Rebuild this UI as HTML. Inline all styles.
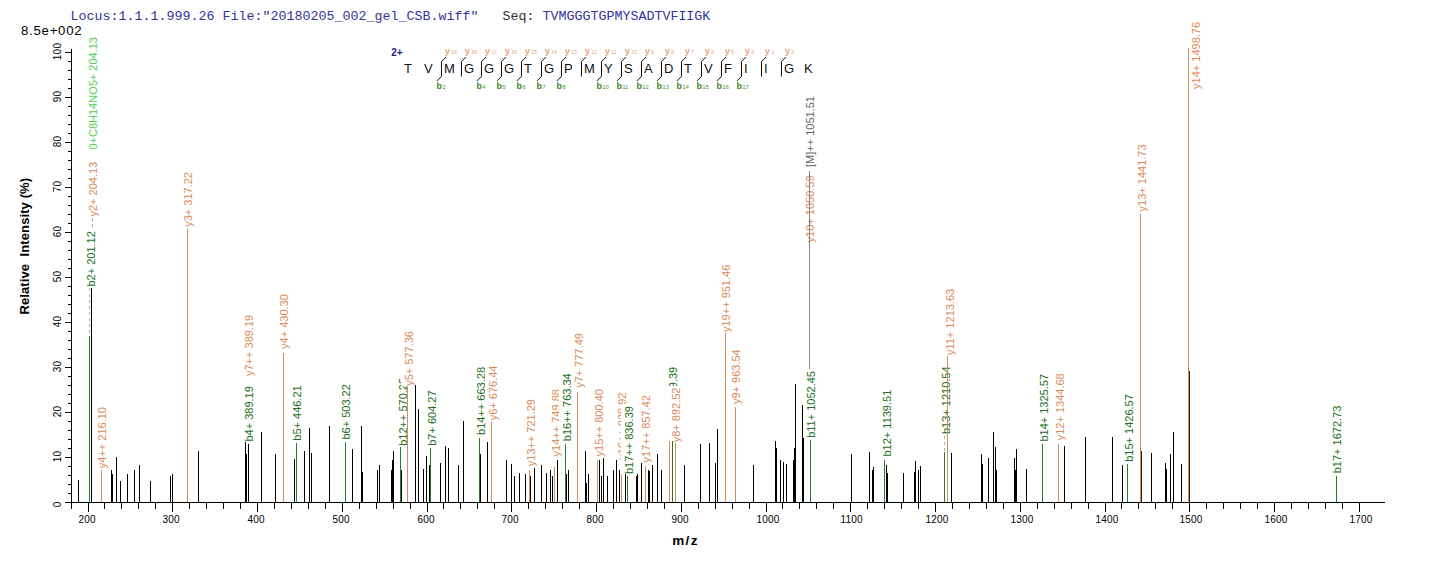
<!DOCTYPE html><html><head><meta charset="utf-8"><style>html,body{margin:0;padding:0;background:#fff;overflow:hidden;}svg{display:block;}</style></head><body>
<svg width="1436" height="562" viewBox="0 0 1436 562" shape-rendering="crispEdges">
<rect x="0" y="0" width="1436" height="562" fill="#fff"/>
<text x="70.5" y="20" font-family="&quot;Liberation Mono&quot;, monospace" font-size="13.33" fill="#33339a" style="white-space:pre">Locus:1.1.1.999.26 File:"20180205_002_gel_CSB.wiff"   <tspan fill="#333">Seq: </tspan>TVMGGGTGPMYSADTVFIIGK</text>
<text x="21" y="35" font-family="&quot;Liberation Sans&quot;, sans-serif" font-size="13.2" fill="#000" letter-spacing="0.75">8.5e+002</text>
<text transform="translate(28.5,314.5) rotate(-90)" font-family="&quot;Liberation Sans&quot;, sans-serif" font-size="13" font-weight="bold" letter-spacing="0.1" fill="#000" style="white-space:pre">Relative  Intensity (%)</text>
<rect x="71" y="49" width="1" height="454" fill="#000"/>
<rect x="65" y="502" width="1320" height="1" fill="#000"/>
<rect x="65" y="502" width="6" height="1" fill="#000"/>
<text transform="translate(61,504.4) rotate(-90)" text-anchor="middle" font-family="&quot;Liberation Sans&quot;, sans-serif" font-size="10" letter-spacing="0.2" fill="#000">0</text>
<rect x="68" y="493" width="3" height="1" fill="#000"/>
<rect x="68" y="484" width="3" height="1" fill="#000"/>
<rect x="68" y="475" width="3" height="1" fill="#000"/>
<rect x="68" y="466" width="3" height="1" fill="#000"/>
<rect x="65" y="457" width="6" height="1" fill="#000"/>
<text transform="translate(61,456.4) rotate(-90)" text-anchor="middle" font-family="&quot;Liberation Sans&quot;, sans-serif" font-size="10" letter-spacing="0.2" fill="#000">10</text>
<rect x="68" y="448" width="3" height="1" fill="#000"/>
<rect x="68" y="439" width="3" height="1" fill="#000"/>
<rect x="68" y="430" width="3" height="1" fill="#000"/>
<rect x="68" y="421" width="3" height="1" fill="#000"/>
<rect x="65" y="412" width="6" height="1" fill="#000"/>
<text transform="translate(61,411.4) rotate(-90)" text-anchor="middle" font-family="&quot;Liberation Sans&quot;, sans-serif" font-size="10" letter-spacing="0.2" fill="#000">20</text>
<rect x="68" y="403" width="3" height="1" fill="#000"/>
<rect x="68" y="394" width="3" height="1" fill="#000"/>
<rect x="68" y="385" width="3" height="1" fill="#000"/>
<rect x="68" y="376" width="3" height="1" fill="#000"/>
<rect x="65" y="367" width="6" height="1" fill="#000"/>
<text transform="translate(61,366.4) rotate(-90)" text-anchor="middle" font-family="&quot;Liberation Sans&quot;, sans-serif" font-size="10" letter-spacing="0.2" fill="#000">30</text>
<rect x="68" y="358" width="3" height="1" fill="#000"/>
<rect x="68" y="349" width="3" height="1" fill="#000"/>
<rect x="68" y="340" width="3" height="1" fill="#000"/>
<rect x="68" y="331" width="3" height="1" fill="#000"/>
<rect x="65" y="322" width="6" height="1" fill="#000"/>
<text transform="translate(61,321.4) rotate(-90)" text-anchor="middle" font-family="&quot;Liberation Sans&quot;, sans-serif" font-size="10" letter-spacing="0.2" fill="#000">40</text>
<rect x="68" y="313" width="3" height="1" fill="#000"/>
<rect x="68" y="304" width="3" height="1" fill="#000"/>
<rect x="68" y="295" width="3" height="1" fill="#000"/>
<rect x="68" y="286" width="3" height="1" fill="#000"/>
<rect x="65" y="277" width="6" height="1" fill="#000"/>
<text transform="translate(61,276.5) rotate(-90)" text-anchor="middle" font-family="&quot;Liberation Sans&quot;, sans-serif" font-size="10" letter-spacing="0.2" fill="#000">50</text>
<rect x="68" y="268" width="3" height="1" fill="#000"/>
<rect x="68" y="259" width="3" height="1" fill="#000"/>
<rect x="68" y="250" width="3" height="1" fill="#000"/>
<rect x="68" y="241" width="3" height="1" fill="#000"/>
<rect x="65" y="232" width="6" height="1" fill="#000"/>
<text transform="translate(61,231.5) rotate(-90)" text-anchor="middle" font-family="&quot;Liberation Sans&quot;, sans-serif" font-size="10" letter-spacing="0.2" fill="#000">60</text>
<rect x="68" y="223" width="3" height="1" fill="#000"/>
<rect x="68" y="214" width="3" height="1" fill="#000"/>
<rect x="68" y="205" width="3" height="1" fill="#000"/>
<rect x="68" y="196" width="3" height="1" fill="#000"/>
<rect x="65" y="187" width="6" height="1" fill="#000"/>
<text transform="translate(61,186.5) rotate(-90)" text-anchor="middle" font-family="&quot;Liberation Sans&quot;, sans-serif" font-size="10" letter-spacing="0.2" fill="#000">70</text>
<rect x="68" y="178" width="3" height="1" fill="#000"/>
<rect x="68" y="169" width="3" height="1" fill="#000"/>
<rect x="68" y="160" width="3" height="1" fill="#000"/>
<rect x="68" y="151" width="3" height="1" fill="#000"/>
<rect x="65" y="142" width="6" height="1" fill="#000"/>
<text transform="translate(61,141.5) rotate(-90)" text-anchor="middle" font-family="&quot;Liberation Sans&quot;, sans-serif" font-size="10" letter-spacing="0.2" fill="#000">80</text>
<rect x="68" y="133" width="3" height="1" fill="#000"/>
<rect x="68" y="124" width="3" height="1" fill="#000"/>
<rect x="68" y="115" width="3" height="1" fill="#000"/>
<rect x="68" y="106" width="3" height="1" fill="#000"/>
<rect x="65" y="97" width="6" height="1" fill="#000"/>
<text transform="translate(61,96.5) rotate(-90)" text-anchor="middle" font-family="&quot;Liberation Sans&quot;, sans-serif" font-size="10" letter-spacing="0.2" fill="#000">90</text>
<rect x="68" y="88" width="3" height="1" fill="#000"/>
<rect x="68" y="79" width="3" height="1" fill="#000"/>
<rect x="68" y="70" width="3" height="1" fill="#000"/>
<rect x="68" y="61" width="3" height="1" fill="#000"/>
<rect x="65" y="52" width="6" height="1" fill="#000"/>
<text transform="translate(61,51.5) rotate(-90)" text-anchor="middle" font-family="&quot;Liberation Sans&quot;, sans-serif" font-size="10" letter-spacing="0.2" fill="#000">100</text>
<rect x="71" y="503" width="1" height="6" fill="#000"/>
<rect x="88" y="503" width="1" height="9" fill="#000"/>
<text x="78.4" y="522.5" font-family="&quot;Liberation Sans&quot;, sans-serif" font-size="10" letter-spacing="0.25" fill="#000">200</text>
<rect x="104" y="503" width="1" height="6" fill="#000"/>
<rect x="121" y="503" width="1" height="6" fill="#000"/>
<rect x="138" y="503" width="1" height="6" fill="#000"/>
<rect x="155" y="503" width="1" height="6" fill="#000"/>
<rect x="172" y="503" width="1" height="9" fill="#000"/>
<text x="162.4" y="522.5" font-family="&quot;Liberation Sans&quot;, sans-serif" font-size="10" letter-spacing="0.25" fill="#000">300</text>
<rect x="189" y="503" width="1" height="6" fill="#000"/>
<rect x="206" y="503" width="1" height="6" fill="#000"/>
<rect x="223" y="503" width="1" height="6" fill="#000"/>
<rect x="240" y="503" width="1" height="6" fill="#000"/>
<rect x="257" y="503" width="1" height="9" fill="#000"/>
<text x="247.4" y="522.5" font-family="&quot;Liberation Sans&quot;, sans-serif" font-size="10" letter-spacing="0.25" fill="#000">400</text>
<rect x="274" y="503" width="1" height="6" fill="#000"/>
<rect x="291" y="503" width="1" height="6" fill="#000"/>
<rect x="308" y="503" width="1" height="6" fill="#000"/>
<rect x="325" y="503" width="1" height="6" fill="#000"/>
<rect x="342" y="503" width="1" height="9" fill="#000"/>
<text x="332.4" y="522.5" font-family="&quot;Liberation Sans&quot;, sans-serif" font-size="10" letter-spacing="0.25" fill="#000">500</text>
<rect x="359" y="503" width="1" height="6" fill="#000"/>
<rect x="376" y="503" width="1" height="6" fill="#000"/>
<rect x="393" y="503" width="1" height="6" fill="#000"/>
<rect x="410" y="503" width="1" height="6" fill="#000"/>
<rect x="427" y="503" width="1" height="9" fill="#000"/>
<text x="417.4" y="522.5" font-family="&quot;Liberation Sans&quot;, sans-serif" font-size="10" letter-spacing="0.25" fill="#000">600</text>
<rect x="443" y="503" width="1" height="6" fill="#000"/>
<rect x="460" y="503" width="1" height="6" fill="#000"/>
<rect x="477" y="503" width="1" height="6" fill="#000"/>
<rect x="494" y="503" width="1" height="6" fill="#000"/>
<rect x="511" y="503" width="1" height="9" fill="#000"/>
<text x="501.4" y="522.5" font-family="&quot;Liberation Sans&quot;, sans-serif" font-size="10" letter-spacing="0.25" fill="#000">700</text>
<rect x="528" y="503" width="1" height="6" fill="#000"/>
<rect x="545" y="503" width="1" height="6" fill="#000"/>
<rect x="562" y="503" width="1" height="6" fill="#000"/>
<rect x="579" y="503" width="1" height="6" fill="#000"/>
<rect x="596" y="503" width="1" height="9" fill="#000"/>
<text x="586.4" y="522.5" font-family="&quot;Liberation Sans&quot;, sans-serif" font-size="10" letter-spacing="0.25" fill="#000">800</text>
<rect x="613" y="503" width="1" height="6" fill="#000"/>
<rect x="630" y="503" width="1" height="6" fill="#000"/>
<rect x="647" y="503" width="1" height="6" fill="#000"/>
<rect x="664" y="503" width="1" height="6" fill="#000"/>
<rect x="681" y="503" width="1" height="9" fill="#000"/>
<text x="671.4" y="522.5" font-family="&quot;Liberation Sans&quot;, sans-serif" font-size="10" letter-spacing="0.25" fill="#000">900</text>
<rect x="698" y="503" width="1" height="6" fill="#000"/>
<rect x="715" y="503" width="1" height="6" fill="#000"/>
<rect x="732" y="503" width="1" height="6" fill="#000"/>
<rect x="749" y="503" width="1" height="6" fill="#000"/>
<rect x="766" y="503" width="1" height="9" fill="#000"/>
<text x="756.4" y="522.5" font-family="&quot;Liberation Sans&quot;, sans-serif" font-size="10" letter-spacing="0.25" fill="#000">1000</text>
<rect x="782" y="503" width="1" height="6" fill="#000"/>
<rect x="799" y="503" width="1" height="6" fill="#000"/>
<rect x="816" y="503" width="1" height="6" fill="#000"/>
<rect x="833" y="503" width="1" height="6" fill="#000"/>
<rect x="850" y="503" width="1" height="9" fill="#000"/>
<text x="840.4" y="522.5" font-family="&quot;Liberation Sans&quot;, sans-serif" font-size="10" letter-spacing="0.25" fill="#000">1100</text>
<rect x="867" y="503" width="1" height="6" fill="#000"/>
<rect x="884" y="503" width="1" height="6" fill="#000"/>
<rect x="901" y="503" width="1" height="6" fill="#000"/>
<rect x="918" y="503" width="1" height="6" fill="#000"/>
<rect x="935" y="503" width="1" height="9" fill="#000"/>
<text x="925.4" y="522.5" font-family="&quot;Liberation Sans&quot;, sans-serif" font-size="10" letter-spacing="0.25" fill="#000">1200</text>
<rect x="952" y="503" width="1" height="6" fill="#000"/>
<rect x="969" y="503" width="1" height="6" fill="#000"/>
<rect x="986" y="503" width="1" height="6" fill="#000"/>
<rect x="1003" y="503" width="1" height="6" fill="#000"/>
<rect x="1020" y="503" width="1" height="9" fill="#000"/>
<text x="1010.4" y="522.5" font-family="&quot;Liberation Sans&quot;, sans-serif" font-size="10" letter-spacing="0.25" fill="#000">1300</text>
<rect x="1037" y="503" width="1" height="6" fill="#000"/>
<rect x="1054" y="503" width="1" height="6" fill="#000"/>
<rect x="1071" y="503" width="1" height="6" fill="#000"/>
<rect x="1088" y="503" width="1" height="6" fill="#000"/>
<rect x="1105" y="503" width="1" height="9" fill="#000"/>
<text x="1095.4" y="522.5" font-family="&quot;Liberation Sans&quot;, sans-serif" font-size="10" letter-spacing="0.25" fill="#000">1400</text>
<rect x="1121" y="503" width="1" height="6" fill="#000"/>
<rect x="1138" y="503" width="1" height="6" fill="#000"/>
<rect x="1155" y="503" width="1" height="6" fill="#000"/>
<rect x="1172" y="503" width="1" height="6" fill="#000"/>
<rect x="1189" y="503" width="1" height="9" fill="#000"/>
<text x="1179.4" y="522.5" font-family="&quot;Liberation Sans&quot;, sans-serif" font-size="10" letter-spacing="0.25" fill="#000">1500</text>
<rect x="1206" y="503" width="1" height="6" fill="#000"/>
<rect x="1223" y="503" width="1" height="6" fill="#000"/>
<rect x="1240" y="503" width="1" height="6" fill="#000"/>
<rect x="1257" y="503" width="1" height="6" fill="#000"/>
<rect x="1274" y="503" width="1" height="9" fill="#000"/>
<text x="1264.4" y="522.5" font-family="&quot;Liberation Sans&quot;, sans-serif" font-size="10" letter-spacing="0.25" fill="#000">1600</text>
<rect x="1291" y="503" width="1" height="6" fill="#000"/>
<rect x="1308" y="503" width="1" height="6" fill="#000"/>
<rect x="1325" y="503" width="1" height="6" fill="#000"/>
<rect x="1342" y="503" width="1" height="6" fill="#000"/>
<rect x="1359" y="503" width="1" height="9" fill="#000"/>
<text x="1349.4" y="522.5" font-family="&quot;Liberation Sans&quot;, sans-serif" font-size="10" letter-spacing="0.25" fill="#000">1700</text>
<text x="672.3" y="544.6" font-family="&quot;Liberation Sans&quot;, sans-serif" font-size="13.5" font-weight="bold" fill="#000" letter-spacing="1.3">m/z</text>
<rect x="82.9" y="229.6" width="15" height="57.4" fill="#fff"/>
<text transform="translate(94.9,286.5) rotate(-90)" font-family="&quot;Liberation Sans&quot;, sans-serif" font-size="11" fill="#226e22">b2+ 201.12</text>
<rect x="84.9" y="160.3" width="15" height="56.7" fill="#fff"/>
<text transform="translate(96.9,216.5) rotate(-90)" font-family="&quot;Liberation Sans&quot;, sans-serif" font-size="11" fill="#dc8a5a">y2+ 204.13</text>
<rect x="85.4" y="35.6" width="15" height="114.5" fill="#fff"/>
<text transform="translate(97.4,149.6) rotate(-90)" font-family="&quot;Liberation Sans&quot;, sans-serif" font-size="11" fill="#55cc55">0+C8H14NO5+ 204.13</text>
<rect x="93.9" y="405.5" width="15" height="63.2" fill="#fff"/>
<text transform="translate(105.9,468.2) rotate(-90)" font-family="&quot;Liberation Sans&quot;, sans-serif" font-size="11" fill="#dc8a5a">y4++ 216.10</text>
<rect x="180.0" y="170.6" width="15" height="56.7" fill="#fff"/>
<text transform="translate(192.0,226.8) rotate(-90)" font-family="&quot;Liberation Sans&quot;, sans-serif" font-size="11" fill="#dc8a5a">y3+ 317.22</text>
<rect x="240.7" y="384.6" width="15" height="57.4" fill="#fff"/>
<text transform="translate(252.7,441.5) rotate(-90)" font-family="&quot;Liberation Sans&quot;, sans-serif" font-size="11" fill="#226e22">b4+ 389.19</text>
<rect x="240.7" y="313.3" width="15" height="63.2" fill="#fff"/>
<text transform="translate(252.7,376.0) rotate(-90)" font-family="&quot;Liberation Sans&quot;, sans-serif" font-size="11" fill="#dc8a5a">y7++ 389.19</text>
<rect x="276.1" y="292.7" width="15" height="56.7" fill="#fff"/>
<text transform="translate(288.1,348.9) rotate(-90)" font-family="&quot;Liberation Sans&quot;, sans-serif" font-size="11" fill="#dc8a5a">y4+ 430.30</text>
<rect x="288.9" y="383.8" width="15" height="57.4" fill="#fff"/>
<text transform="translate(300.9,440.7) rotate(-90)" font-family="&quot;Liberation Sans&quot;, sans-serif" font-size="11" fill="#226e22">b5+ 446.21</text>
<rect x="337.8" y="382.6" width="15" height="57.4" fill="#fff"/>
<text transform="translate(349.8,439.5) rotate(-90)" font-family="&quot;Liberation Sans&quot;, sans-serif" font-size="11" fill="#226e22">b6+ 503.22</text>
<rect x="394.6" y="376.4" width="15" height="69.9" fill="#fff"/>
<text transform="translate(406.6,445.8) rotate(-90)" font-family="&quot;Liberation Sans&quot;, sans-serif" font-size="11" fill="#226e22">b12++ 570.25</text>
<rect x="400.7" y="329.6" width="15" height="56.7" fill="#fff"/>
<text transform="translate(412.7,385.8) rotate(-90)" font-family="&quot;Liberation Sans&quot;, sans-serif" font-size="11" fill="#dc8a5a">y5+ 577.36</text>
<rect x="423.9" y="388.9" width="15" height="57.4" fill="#fff"/>
<text transform="translate(435.9,445.8) rotate(-90)" font-family="&quot;Liberation Sans&quot;, sans-serif" font-size="11" fill="#226e22">b7+ 604.27</text>
<rect x="473.4" y="365.5" width="15" height="69.9" fill="#fff"/>
<text transform="translate(485.4,434.9) rotate(-90)" font-family="&quot;Liberation Sans&quot;, sans-serif" font-size="11" fill="#226e22">b14++ 663.28</text>
<rect x="485.4" y="364.1" width="15" height="56.7" fill="#fff"/>
<text transform="translate(497.4,420.3) rotate(-90)" font-family="&quot;Liberation Sans&quot;, sans-serif" font-size="11" fill="#dc8a5a">y6+ 676.44</text>
<rect x="522.6" y="397.5" width="15" height="69.3" fill="#fff"/>
<text transform="translate(534.6,466.3) rotate(-90)" font-family="&quot;Liberation Sans&quot;, sans-serif" font-size="11" fill="#dc8a5a">y13++ 721.29</text>
<rect x="547.9" y="387.6" width="15" height="69.3" fill="#fff"/>
<text transform="translate(559.9,456.4) rotate(-90)" font-family="&quot;Liberation Sans&quot;, sans-serif" font-size="11" fill="#dc8a5a">y14++ 749.88</text>
<rect x="558.6" y="371.8" width="15" height="69.9" fill="#fff"/>
<text transform="translate(570.6,441.2) rotate(-90)" font-family="&quot;Liberation Sans&quot;, sans-serif" font-size="11" fill="#226e22">b16++ 763.34</text>
<rect x="570.6" y="331.6" width="15" height="56.7" fill="#fff"/>
<text transform="translate(582.6,387.8) rotate(-90)" font-family="&quot;Liberation Sans&quot;, sans-serif" font-size="11" fill="#dc8a5a">y7+ 777.49</text>
<rect x="590.6" y="387.6" width="15" height="69.3" fill="#fff"/>
<text transform="translate(602.6,456.4) rotate(-90)" font-family="&quot;Liberation Sans&quot;, sans-serif" font-size="11" fill="#dc8a5a">y15++ 800.40</text>
<rect x="613.7" y="391.0" width="15" height="69.3" fill="#fff"/>
<text transform="translate(625.7,459.8) rotate(-90)" font-family="&quot;Liberation Sans&quot;, sans-serif" font-size="11" fill="#dc8a5a">y16++ 828.92</text>
<rect x="620.7" y="404.6" width="15" height="69.9" fill="#fff"/>
<text transform="translate(632.7,474.0) rotate(-90)" font-family="&quot;Liberation Sans&quot;, sans-serif" font-size="11" fill="#226e22">b17++ 836.39</text>
<rect x="637.8" y="393.6" width="15" height="69.3" fill="#fff"/>
<text transform="translate(649.8,462.4) rotate(-90)" font-family="&quot;Liberation Sans&quot;, sans-serif" font-size="11" fill="#dc8a5a">y17++ 857.42</text>
<rect x="662.9" y="366.2" width="15" height="69.3" fill="#fff"/>
<text transform="translate(674.9,435.0) rotate(-90)" font-family="&quot;Liberation Sans&quot;, sans-serif" font-size="11" fill="#dc8a5a">y18++ 885.94</text>
<rect x="665.4" y="365.3" width="15" height="63.5" fill="#fff"/>
<text transform="translate(677.4,428.3) rotate(-90)" font-family="&quot;Liberation Sans&quot;, sans-serif" font-size="11" fill="#226e22">b10+ 889.39</text>
<rect x="667.9" y="386.1" width="15" height="56.7" fill="#fff"/>
<text transform="translate(679.9,442.3) rotate(-90)" font-family="&quot;Liberation Sans&quot;, sans-serif" font-size="11" fill="#dc8a5a">y8+ 892.52</text>
<rect x="718.4" y="263.2" width="15" height="69.3" fill="#fff"/>
<text transform="translate(730.4,332.0) rotate(-90)" font-family="&quot;Liberation Sans&quot;, sans-serif" font-size="11" fill="#dc8a5a">y19++ 951.46</text>
<rect x="727.8" y="347.8" width="15" height="56.7" fill="#fff"/>
<text transform="translate(739.8,404.0) rotate(-90)" font-family="&quot;Liberation Sans&quot;, sans-serif" font-size="11" fill="#dc8a5a">y9+ 963.54</text>
<rect x="801.9" y="173.9" width="15" height="69.0" fill="#fff"/>
<text transform="translate(813.9,242.4) rotate(-90)" font-family="&quot;Liberation Sans&quot;, sans-serif" font-size="11" fill="#dc8a5a">y10+ 1050.59</text>
<rect x="801.9" y="94.6" width="15" height="72.9" fill="#fff"/>
<text transform="translate(813.9,167.0) rotate(-90)" font-family="&quot;Liberation Sans&quot;, sans-serif" font-size="11" fill="#666666">[M]++ 1051.51</text>
<rect x="803.4" y="369.5" width="15" height="68.8" fill="#fff"/>
<text transform="translate(815.4,437.8) rotate(-90)" font-family="&quot;Liberation Sans&quot;, sans-serif" font-size="11" fill="#226e22">b11+ 1052.45</text>
<rect x="878.9" y="388.2" width="15" height="68.8" fill="#fff"/>
<text transform="translate(890.9,456.5) rotate(-90)" font-family="&quot;Liberation Sans&quot;, sans-serif" font-size="11" fill="#226e22">b12+ 1139.51</text>
<rect x="938.1" y="364.9" width="15" height="69.6" fill="#fff"/>
<text transform="translate(950.1,434.0) rotate(-90)" font-family="&quot;Liberation Sans&quot;, sans-serif" font-size="11" fill="#226e22">b13+ 1210.54</text>
<rect x="941.5" y="287.3" width="15" height="68.2" fill="#fff"/>
<text transform="translate(953.5,355.0) rotate(-90)" font-family="&quot;Liberation Sans&quot;, sans-serif" font-size="11" fill="#dc8a5a">y11+ 1213.63</text>
<rect x="1035.6" y="372.5" width="15" height="69.6" fill="#fff"/>
<text transform="translate(1047.6,441.6) rotate(-90)" font-family="&quot;Liberation Sans&quot;, sans-serif" font-size="11" fill="#226e22">b14+ 1325.57</text>
<rect x="1051.8" y="371.8" width="15" height="69.0" fill="#fff"/>
<text transform="translate(1063.8,440.3) rotate(-90)" font-family="&quot;Liberation Sans&quot;, sans-serif" font-size="11" fill="#dc8a5a">y12+ 1344.68</text>
<rect x="1120.7" y="392.7" width="15" height="69.6" fill="#fff"/>
<text transform="translate(1132.7,461.8) rotate(-90)" font-family="&quot;Liberation Sans&quot;, sans-serif" font-size="11" fill="#226e22">b15+ 1426.57</text>
<rect x="1133.9" y="142.9" width="15" height="69.0" fill="#fff"/>
<text transform="translate(1145.9,211.4) rotate(-90)" font-family="&quot;Liberation Sans&quot;, sans-serif" font-size="11" fill="#dc8a5a">y13+ 1441.73</text>
<rect x="1188.4" y="20.4" width="15" height="69.0" fill="#fff"/>
<text transform="translate(1200.4,88.9) rotate(-90)" font-family="&quot;Liberation Sans&quot;, sans-serif" font-size="11" fill="#dc8a5a">y14+ 1498.76</text>
<rect x="1329.0" y="404.2" width="15" height="69.6" fill="#fff"/>
<text transform="translate(1341.0,473.3) rotate(-90)" font-family="&quot;Liberation Sans&quot;, sans-serif" font-size="11" fill="#226e22">b17+ 1672.73</text>
<rect x="809" y="171" width="1" height="198" fill="#858585"/>
<line x1="89.5" y1="288" x2="89.5" y2="335" stroke="#b0b0b0" stroke-width="1" stroke-dasharray="3,3"/>
<line x1="944.5" y1="436" x2="944.5" y2="451" stroke="#b0b0b0" stroke-width="1" stroke-dasharray="3,3"/>
<line x1="92.5" y1="218" x2="92.5" y2="230" stroke="#b0b0b0" stroke-width="1" stroke-dasharray="3,3"/>
<rect x="78" y="480" width="1" height="22" fill="#000000"/>
<rect x="89" y="336" width="1" height="166" fill="#2c7a2c"/>
<rect x="91" y="288" width="1" height="214" fill="#000000"/>
<rect x="101" y="470" width="1" height="32" fill="#d0925c"/>
<rect x="111" y="470" width="1" height="32" fill="#000000"/>
<rect x="112" y="474" width="1" height="28" fill="#000000"/>
<rect x="116" y="457" width="1" height="45" fill="#000000"/>
<rect x="120" y="481" width="1" height="21" fill="#000000"/>
<rect x="127" y="474" width="1" height="28" fill="#000000"/>
<rect x="134" y="470" width="1" height="32" fill="#000000"/>
<rect x="139" y="465" width="1" height="37" fill="#000000"/>
<rect x="150" y="481" width="1" height="21" fill="#000000"/>
<rect x="170" y="476" width="1" height="26" fill="#000000"/>
<rect x="172" y="474" width="1" height="28" fill="#000000"/>
<rect x="187" y="229" width="1" height="273" fill="#d0925c"/>
<rect x="198" y="451" width="1" height="51" fill="#000000"/>
<rect x="245" y="442" width="1" height="60" fill="#000000"/>
<rect x="246" y="454" width="1" height="48" fill="#000000"/>
<rect x="248" y="444" width="1" height="58" fill="#000000"/>
<rect x="261" y="432" width="1" height="70" fill="#000000"/>
<rect x="275" y="454" width="1" height="48" fill="#000000"/>
<rect x="283" y="353" width="1" height="149" fill="#d0925c"/>
<rect x="294" y="459" width="1" height="43" fill="#000000"/>
<rect x="296" y="443" width="1" height="59" fill="#2c7a2c"/>
<rect x="304" y="451" width="1" height="51" fill="#000000"/>
<rect x="309" y="428" width="1" height="74" fill="#000000"/>
<rect x="311" y="453" width="1" height="49" fill="#000000"/>
<rect x="329" y="426" width="1" height="76" fill="#000000"/>
<rect x="345" y="442" width="1" height="60" fill="#2c7a2c"/>
<rect x="352" y="449" width="1" height="53" fill="#000000"/>
<rect x="361" y="426" width="1" height="76" fill="#000000"/>
<rect x="362" y="472" width="1" height="30" fill="#000000"/>
<rect x="377" y="470" width="1" height="32" fill="#000000"/>
<rect x="379" y="465" width="1" height="37" fill="#000000"/>
<rect x="391" y="470" width="1" height="32" fill="#000000"/>
<rect x="392" y="460" width="1" height="42" fill="#000000"/>
<rect x="393" y="451" width="1" height="51" fill="#000000"/>
<rect x="400" y="447" width="1" height="55" fill="#2c7a2c"/>
<rect x="401" y="470" width="1" height="32" fill="#000000"/>
<rect x="407" y="387" width="1" height="115" fill="#d0925c"/>
<rect x="415" y="385" width="1" height="117" fill="#000000"/>
<rect x="418" y="409" width="1" height="93" fill="#000000"/>
<rect x="423" y="469" width="1" height="33" fill="#000000"/>
<rect x="426" y="456" width="1" height="46" fill="#000000"/>
<rect x="429" y="465" width="1" height="37" fill="#000000"/>
<rect x="430" y="448" width="1" height="54" fill="#2c7a2c"/>
<rect x="440" y="463" width="1" height="39" fill="#000000"/>
<rect x="445" y="446" width="1" height="56" fill="#000000"/>
<rect x="448" y="448" width="1" height="54" fill="#000000"/>
<rect x="458" y="465" width="1" height="37" fill="#000000"/>
<rect x="463" y="421" width="1" height="81" fill="#000000"/>
<rect x="479" y="438" width="1" height="64" fill="#2c7a2c"/>
<rect x="480" y="454" width="1" height="48" fill="#000000"/>
<rect x="487" y="442" width="1" height="60" fill="#000000"/>
<rect x="491" y="422" width="1" height="80" fill="#d0925c"/>
<rect x="506" y="460" width="1" height="42" fill="#000000"/>
<rect x="511" y="464" width="1" height="38" fill="#000000"/>
<rect x="514" y="476" width="1" height="26" fill="#000000"/>
<rect x="519" y="473" width="1" height="29" fill="#000000"/>
<rect x="525" y="474" width="1" height="28" fill="#000000"/>
<rect x="529" y="470" width="1" height="32" fill="#d0925c"/>
<rect x="530" y="476" width="1" height="26" fill="#000000"/>
<rect x="534" y="468" width="1" height="34" fill="#000000"/>
<rect x="541" y="465" width="1" height="37" fill="#000000"/>
<rect x="546" y="473" width="1" height="29" fill="#000000"/>
<rect x="550" y="470" width="1" height="32" fill="#000000"/>
<rect x="552" y="476" width="1" height="26" fill="#000000"/>
<rect x="554" y="467" width="1" height="35" fill="#d0925c"/>
<rect x="557" y="460" width="1" height="42" fill="#000000"/>
<rect x="565" y="444" width="1" height="58" fill="#2c7a2c"/>
<rect x="566" y="474" width="1" height="28" fill="#000000"/>
<rect x="568" y="470" width="1" height="32" fill="#000000"/>
<rect x="577" y="392" width="1" height="110" fill="#d0925c"/>
<rect x="585" y="451" width="1" height="51" fill="#000000"/>
<rect x="586" y="483" width="1" height="19" fill="#000000"/>
<rect x="588" y="474" width="1" height="28" fill="#000000"/>
<rect x="597" y="460" width="1" height="42" fill="#d0925c"/>
<rect x="599" y="460" width="1" height="42" fill="#000000"/>
<rect x="601" y="476" width="1" height="26" fill="#000000"/>
<rect x="603" y="458" width="1" height="44" fill="#000000"/>
<rect x="607" y="476" width="1" height="26" fill="#000000"/>
<rect x="613" y="470" width="1" height="32" fill="#000000"/>
<rect x="616" y="460" width="1" height="42" fill="#000000"/>
<rect x="619" y="470" width="1" height="32" fill="#000000"/>
<rect x="621" y="474" width="1" height="28" fill="#d0925c"/>
<rect x="625" y="474" width="1" height="28" fill="#000000"/>
<rect x="627" y="476" width="1" height="26" fill="#2c7a2c"/>
<rect x="636" y="476" width="1" height="26" fill="#000000"/>
<rect x="637" y="474" width="1" height="28" fill="#000000"/>
<rect x="641" y="463" width="1" height="39" fill="#000000"/>
<rect x="645" y="466" width="1" height="36" fill="#d0925c"/>
<rect x="648" y="470" width="1" height="32" fill="#000000"/>
<rect x="649" y="471" width="1" height="31" fill="#000000"/>
<rect x="652" y="465" width="1" height="37" fill="#000000"/>
<rect x="657" y="454" width="1" height="48" fill="#000000"/>
<rect x="661" y="470" width="1" height="32" fill="#000000"/>
<rect x="669" y="441" width="1" height="61" fill="#d0925c"/>
<rect x="672" y="441" width="1" height="61" fill="#2c7a2c"/>
<rect x="675" y="443" width="1" height="59" fill="#d0925c"/>
<rect x="684" y="465" width="1" height="37" fill="#000000"/>
<rect x="700" y="444" width="1" height="58" fill="#000000"/>
<rect x="709" y="443" width="1" height="59" fill="#000000"/>
<rect x="715" y="463" width="1" height="39" fill="#000000"/>
<rect x="717" y="429" width="1" height="73" fill="#000000"/>
<rect x="725" y="333" width="1" height="169" fill="#d0925c"/>
<rect x="735" y="407" width="1" height="95" fill="#d0925c"/>
<rect x="753" y="465" width="1" height="37" fill="#000000"/>
<rect x="775" y="441" width="1" height="61" fill="#000000"/>
<rect x="776" y="448" width="1" height="54" fill="#000000"/>
<rect x="780" y="460" width="1" height="42" fill="#000000"/>
<rect x="783" y="462" width="1" height="40" fill="#000000"/>
<rect x="786" y="464" width="1" height="38" fill="#000000"/>
<rect x="793" y="460" width="1" height="42" fill="#000000"/>
<rect x="794" y="448" width="1" height="54" fill="#000000"/>
<rect x="795" y="384" width="1" height="118" fill="#000000"/>
<rect x="802" y="405" width="1" height="97" fill="#000000"/>
<rect x="803" y="438" width="1" height="64" fill="#000000"/>
<rect x="810" y="440" width="1" height="62" fill="#2c7a2c"/>
<rect x="851" y="454" width="1" height="48" fill="#000000"/>
<rect x="869" y="452" width="1" height="50" fill="#000000"/>
<rect x="872" y="470" width="1" height="32" fill="#000000"/>
<rect x="873" y="467" width="1" height="35" fill="#000000"/>
<rect x="884" y="460" width="1" height="42" fill="#2c7a2c"/>
<rect x="886" y="465" width="1" height="37" fill="#000000"/>
<rect x="887" y="473" width="1" height="29" fill="#000000"/>
<rect x="903" y="473" width="1" height="29" fill="#000000"/>
<rect x="914" y="472" width="1" height="30" fill="#000000"/>
<rect x="915" y="461" width="1" height="41" fill="#000000"/>
<rect x="918" y="470" width="1" height="32" fill="#000000"/>
<rect x="920" y="466" width="1" height="36" fill="#000000"/>
<rect x="944" y="452" width="1" height="50" fill="#2c7a2c"/>
<rect x="947" y="356" width="1" height="146" fill="#d0925c"/>
<rect x="951" y="453" width="1" height="49" fill="#000000"/>
<rect x="981" y="454" width="1" height="48" fill="#000000"/>
<rect x="982" y="464" width="1" height="38" fill="#000000"/>
<rect x="988" y="458" width="1" height="44" fill="#000000"/>
<rect x="993" y="432" width="1" height="70" fill="#000000"/>
<rect x="995" y="447" width="1" height="55" fill="#000000"/>
<rect x="996" y="470" width="1" height="32" fill="#000000"/>
<rect x="1014" y="458" width="1" height="44" fill="#000000"/>
<rect x="1015" y="470" width="1" height="32" fill="#000000"/>
<rect x="1016" y="449" width="1" height="53" fill="#000000"/>
<rect x="1026" y="469" width="1" height="33" fill="#000000"/>
<rect x="1042" y="444" width="1" height="58" fill="#2c7a2c"/>
<rect x="1058" y="444" width="1" height="58" fill="#d0925c"/>
<rect x="1064" y="446" width="1" height="56" fill="#000000"/>
<rect x="1085" y="437" width="1" height="65" fill="#000000"/>
<rect x="1112" y="437" width="1" height="65" fill="#000000"/>
<rect x="1122" y="465" width="1" height="37" fill="#000000"/>
<rect x="1127" y="464" width="1" height="38" fill="#2c7a2c"/>
<rect x="1140" y="214" width="1" height="288" fill="#d0925c"/>
<rect x="1141" y="451" width="1" height="51" fill="#3a140a"/>
<rect x="1151" y="453" width="1" height="49" fill="#000000"/>
<rect x="1165" y="463" width="1" height="39" fill="#000000"/>
<rect x="1166" y="469" width="1" height="33" fill="#000000"/>
<rect x="1170" y="454" width="1" height="48" fill="#000000"/>
<rect x="1173" y="432" width="1" height="70" fill="#000000"/>
<rect x="1181" y="464" width="1" height="38" fill="#000000"/>
<rect x="1188" y="48" width="1" height="454" fill="#d0925c"/>
<rect x="1189" y="371" width="1" height="131" fill="#3a140a"/>
<rect x="1336" y="476" width="1" height="26" fill="#2c7a2c"/>
<text x="391.2" y="56" font-family="&quot;Liberation Sans&quot;, sans-serif" font-size="10" font-weight="bold" fill="#22228a">2+</text>
<text x="404" y="73.1" font-family="&quot;Liberation Sans&quot;, sans-serif" font-size="13" fill="#111">T</text>
<text x="424" y="73.1" font-family="&quot;Liberation Sans&quot;, sans-serif" font-size="13" fill="#111">V</text>
<text x="444" y="73.1" font-family="&quot;Liberation Sans&quot;, sans-serif" font-size="13" fill="#111">M</text>
<text x="464" y="73.1" font-family="&quot;Liberation Sans&quot;, sans-serif" font-size="13" fill="#111">G</text>
<text x="484" y="73.1" font-family="&quot;Liberation Sans&quot;, sans-serif" font-size="13" fill="#111">G</text>
<text x="504" y="73.1" font-family="&quot;Liberation Sans&quot;, sans-serif" font-size="13" fill="#111">G</text>
<text x="524" y="73.1" font-family="&quot;Liberation Sans&quot;, sans-serif" font-size="13" fill="#111">T</text>
<text x="544" y="73.1" font-family="&quot;Liberation Sans&quot;, sans-serif" font-size="13" fill="#111">G</text>
<text x="564" y="73.1" font-family="&quot;Liberation Sans&quot;, sans-serif" font-size="13" fill="#111">P</text>
<text x="584" y="73.1" font-family="&quot;Liberation Sans&quot;, sans-serif" font-size="13" fill="#111">M</text>
<text x="604" y="73.1" font-family="&quot;Liberation Sans&quot;, sans-serif" font-size="13" fill="#111">Y</text>
<text x="624" y="73.1" font-family="&quot;Liberation Sans&quot;, sans-serif" font-size="13" fill="#111">S</text>
<text x="644" y="73.1" font-family="&quot;Liberation Sans&quot;, sans-serif" font-size="13" fill="#111">A</text>
<text x="664" y="73.1" font-family="&quot;Liberation Sans&quot;, sans-serif" font-size="13" fill="#111">D</text>
<text x="684" y="73.1" font-family="&quot;Liberation Sans&quot;, sans-serif" font-size="13" fill="#111">T</text>
<text x="704" y="73.1" font-family="&quot;Liberation Sans&quot;, sans-serif" font-size="13" fill="#111">V</text>
<text x="724" y="73.1" font-family="&quot;Liberation Sans&quot;, sans-serif" font-size="13" fill="#111">F</text>
<text x="744" y="73.1" font-family="&quot;Liberation Sans&quot;, sans-serif" font-size="13" fill="#111">I</text>
<text x="764" y="73.1" font-family="&quot;Liberation Sans&quot;, sans-serif" font-size="13" fill="#111">I</text>
<text x="784" y="73.1" font-family="&quot;Liberation Sans&quot;, sans-serif" font-size="13" fill="#111">G</text>
<text x="804" y="73.1" font-family="&quot;Liberation Sans&quot;, sans-serif" font-size="13" fill="#111">K</text>
<path d="M446.0,57.2 L441.5,61.3 L441.5,76.5 L437.0,80.8" fill="none" stroke="#111" stroke-width="1" shape-rendering="auto"/>
<text x="444.7" y="54" font-family="&quot;Liberation Sans&quot;, sans-serif" font-size="9.5" font-weight="bold" fill="#e8a584">y<tspan font-size="5" font-weight="normal" dx="1.2" dy="0.2">19</tspan></text>
<text x="436.5" y="89" font-family="&quot;Liberation Sans&quot;, sans-serif" font-size="9" font-weight="bold" fill="#3f8a2c">b<tspan font-size="5.5" font-weight="normal" dx="0.6">2</tspan></text>
<path d="M466.0,57.2 L461.5,61.3 L461.5,76.5" fill="none" stroke="#111" stroke-width="1" shape-rendering="auto"/>
<text x="464.7" y="54" font-family="&quot;Liberation Sans&quot;, sans-serif" font-size="9.5" font-weight="bold" fill="#e8a584">y<tspan font-size="5" font-weight="normal" dx="1.2" dy="0.2">18</tspan></text>
<path d="M486.0,57.2 L481.5,61.3 L481.5,76.5 L477.0,80.8" fill="none" stroke="#111" stroke-width="1" shape-rendering="auto"/>
<text x="484.7" y="54" font-family="&quot;Liberation Sans&quot;, sans-serif" font-size="9.5" font-weight="bold" fill="#e8a584">y<tspan font-size="5" font-weight="normal" dx="1.2" dy="0.2">17</tspan></text>
<text x="476.5" y="89" font-family="&quot;Liberation Sans&quot;, sans-serif" font-size="9" font-weight="bold" fill="#3f8a2c">b<tspan font-size="5.5" font-weight="normal" dx="0.6">4</tspan></text>
<path d="M506.0,57.2 L501.5,61.3 L501.5,76.5 L497.0,80.8" fill="none" stroke="#111" stroke-width="1" shape-rendering="auto"/>
<text x="504.7" y="54" font-family="&quot;Liberation Sans&quot;, sans-serif" font-size="9.5" font-weight="bold" fill="#e8a584">y<tspan font-size="5" font-weight="normal" dx="1.2" dy="0.2">16</tspan></text>
<text x="496.5" y="89" font-family="&quot;Liberation Sans&quot;, sans-serif" font-size="9" font-weight="bold" fill="#3f8a2c">b<tspan font-size="5.5" font-weight="normal" dx="0.6">5</tspan></text>
<path d="M526.0,57.2 L521.5,61.3 L521.5,76.5 L517.0,80.8" fill="none" stroke="#111" stroke-width="1" shape-rendering="auto"/>
<text x="524.7" y="54" font-family="&quot;Liberation Sans&quot;, sans-serif" font-size="9.5" font-weight="bold" fill="#e8a584">y<tspan font-size="5" font-weight="normal" dx="1.2" dy="0.2">15</tspan></text>
<text x="516.5" y="89" font-family="&quot;Liberation Sans&quot;, sans-serif" font-size="9" font-weight="bold" fill="#3f8a2c">b<tspan font-size="5.5" font-weight="normal" dx="0.6">6</tspan></text>
<path d="M546.0,57.2 L541.5,61.3 L541.5,76.5 L537.0,80.8" fill="none" stroke="#111" stroke-width="1" shape-rendering="auto"/>
<text x="544.7" y="54" font-family="&quot;Liberation Sans&quot;, sans-serif" font-size="9.5" font-weight="bold" fill="#e8a584">y<tspan font-size="5" font-weight="normal" dx="1.2" dy="0.2">14</tspan></text>
<text x="536.5" y="89" font-family="&quot;Liberation Sans&quot;, sans-serif" font-size="9" font-weight="bold" fill="#3f8a2c">b<tspan font-size="5.5" font-weight="normal" dx="0.6">7</tspan></text>
<path d="M566.0,57.2 L561.5,61.3 L561.5,76.5 L557.0,80.8" fill="none" stroke="#111" stroke-width="1" shape-rendering="auto"/>
<text x="564.7" y="54" font-family="&quot;Liberation Sans&quot;, sans-serif" font-size="9.5" font-weight="bold" fill="#e8a584">y<tspan font-size="5" font-weight="normal" dx="1.2" dy="0.2">13</tspan></text>
<text x="556.5" y="89" font-family="&quot;Liberation Sans&quot;, sans-serif" font-size="9" font-weight="bold" fill="#3f8a2c">b<tspan font-size="5.5" font-weight="normal" dx="0.6">8</tspan></text>
<path d="M586.0,57.2 L581.5,61.3 L581.5,76.5" fill="none" stroke="#111" stroke-width="1" shape-rendering="auto"/>
<text x="584.7" y="54" font-family="&quot;Liberation Sans&quot;, sans-serif" font-size="9.5" font-weight="bold" fill="#e8a584">y<tspan font-size="5" font-weight="normal" dx="1.2" dy="0.2">12</tspan></text>
<path d="M606.0,57.2 L601.5,61.3 L601.5,76.5 L597.0,80.8" fill="none" stroke="#111" stroke-width="1" shape-rendering="auto"/>
<text x="604.7" y="54" font-family="&quot;Liberation Sans&quot;, sans-serif" font-size="9.5" font-weight="bold" fill="#e8a584">y<tspan font-size="5" font-weight="normal" dx="1.2" dy="0.2">11</tspan></text>
<text x="596.5" y="89" font-family="&quot;Liberation Sans&quot;, sans-serif" font-size="9" font-weight="bold" fill="#3f8a2c">b<tspan font-size="5.5" font-weight="normal" dx="0.6">10</tspan></text>
<path d="M626.0,57.2 L621.5,61.3 L621.5,76.5 L617.0,80.8" fill="none" stroke="#111" stroke-width="1" shape-rendering="auto"/>
<text x="624.7" y="54" font-family="&quot;Liberation Sans&quot;, sans-serif" font-size="9.5" font-weight="bold" fill="#e8a584">y<tspan font-size="5" font-weight="normal" dx="1.2" dy="0.2">10</tspan></text>
<text x="616.5" y="89" font-family="&quot;Liberation Sans&quot;, sans-serif" font-size="9" font-weight="bold" fill="#3f8a2c">b<tspan font-size="5.5" font-weight="normal" dx="0.6">11</tspan></text>
<path d="M646.0,57.2 L641.5,61.3 L641.5,76.5 L637.0,80.8" fill="none" stroke="#111" stroke-width="1" shape-rendering="auto"/>
<text x="644.7" y="54" font-family="&quot;Liberation Sans&quot;, sans-serif" font-size="9.5" font-weight="bold" fill="#e8a584">y<tspan font-size="5" font-weight="normal" dx="1.2" dy="0.2">9</tspan></text>
<text x="636.5" y="89" font-family="&quot;Liberation Sans&quot;, sans-serif" font-size="9" font-weight="bold" fill="#3f8a2c">b<tspan font-size="5.5" font-weight="normal" dx="0.6">12</tspan></text>
<path d="M666.0,57.2 L661.5,61.3 L661.5,76.5 L657.0,80.8" fill="none" stroke="#111" stroke-width="1" shape-rendering="auto"/>
<text x="664.7" y="54" font-family="&quot;Liberation Sans&quot;, sans-serif" font-size="9.5" font-weight="bold" fill="#e8a584">y<tspan font-size="5" font-weight="normal" dx="1.2" dy="0.2">8</tspan></text>
<text x="656.5" y="89" font-family="&quot;Liberation Sans&quot;, sans-serif" font-size="9" font-weight="bold" fill="#3f8a2c">b<tspan font-size="5.5" font-weight="normal" dx="0.6">13</tspan></text>
<path d="M686.0,57.2 L681.5,61.3 L681.5,76.5 L677.0,80.8" fill="none" stroke="#111" stroke-width="1" shape-rendering="auto"/>
<text x="684.7" y="54" font-family="&quot;Liberation Sans&quot;, sans-serif" font-size="9.5" font-weight="bold" fill="#e8a584">y<tspan font-size="5" font-weight="normal" dx="1.2" dy="0.2">7</tspan></text>
<text x="676.5" y="89" font-family="&quot;Liberation Sans&quot;, sans-serif" font-size="9" font-weight="bold" fill="#3f8a2c">b<tspan font-size="5.5" font-weight="normal" dx="0.6">14</tspan></text>
<path d="M706.0,57.2 L701.5,61.3 L701.5,76.5 L697.0,80.8" fill="none" stroke="#111" stroke-width="1" shape-rendering="auto"/>
<text x="704.7" y="54" font-family="&quot;Liberation Sans&quot;, sans-serif" font-size="9.5" font-weight="bold" fill="#e8a584">y<tspan font-size="5" font-weight="normal" dx="1.2" dy="0.2">6</tspan></text>
<text x="696.5" y="89" font-family="&quot;Liberation Sans&quot;, sans-serif" font-size="9" font-weight="bold" fill="#3f8a2c">b<tspan font-size="5.5" font-weight="normal" dx="0.6">15</tspan></text>
<path d="M726.0,57.2 L721.5,61.3 L721.5,76.5 L717.0,80.8" fill="none" stroke="#111" stroke-width="1" shape-rendering="auto"/>
<text x="724.7" y="54" font-family="&quot;Liberation Sans&quot;, sans-serif" font-size="9.5" font-weight="bold" fill="#e8a584">y<tspan font-size="5" font-weight="normal" dx="1.2" dy="0.2">5</tspan></text>
<text x="716.5" y="89" font-family="&quot;Liberation Sans&quot;, sans-serif" font-size="9" font-weight="bold" fill="#3f8a2c">b<tspan font-size="5.5" font-weight="normal" dx="0.6">16</tspan></text>
<path d="M746.0,57.2 L741.5,61.3 L741.5,76.5 L737.0,80.8" fill="none" stroke="#111" stroke-width="1" shape-rendering="auto"/>
<text x="744.7" y="54" font-family="&quot;Liberation Sans&quot;, sans-serif" font-size="9.5" font-weight="bold" fill="#e8a584">y<tspan font-size="5" font-weight="normal" dx="1.2" dy="0.2">4</tspan></text>
<text x="736.5" y="89" font-family="&quot;Liberation Sans&quot;, sans-serif" font-size="9" font-weight="bold" fill="#3f8a2c">b<tspan font-size="5.5" font-weight="normal" dx="0.6">17</tspan></text>
<path d="M766.0,57.2 L761.5,61.3 L761.5,76.5" fill="none" stroke="#111" stroke-width="1" shape-rendering="auto"/>
<text x="764.7" y="54" font-family="&quot;Liberation Sans&quot;, sans-serif" font-size="9.5" font-weight="bold" fill="#e8a584">y<tspan font-size="5" font-weight="normal" dx="1.2" dy="0.2">3</tspan></text>
<path d="M786.0,57.2 L781.5,61.3 L781.5,76.5" fill="none" stroke="#111" stroke-width="1" shape-rendering="auto"/>
<text x="784.7" y="54" font-family="&quot;Liberation Sans&quot;, sans-serif" font-size="9.5" font-weight="bold" fill="#e8a584">y<tspan font-size="5" font-weight="normal" dx="1.2" dy="0.2">2</tspan></text>
</svg></body></html>
